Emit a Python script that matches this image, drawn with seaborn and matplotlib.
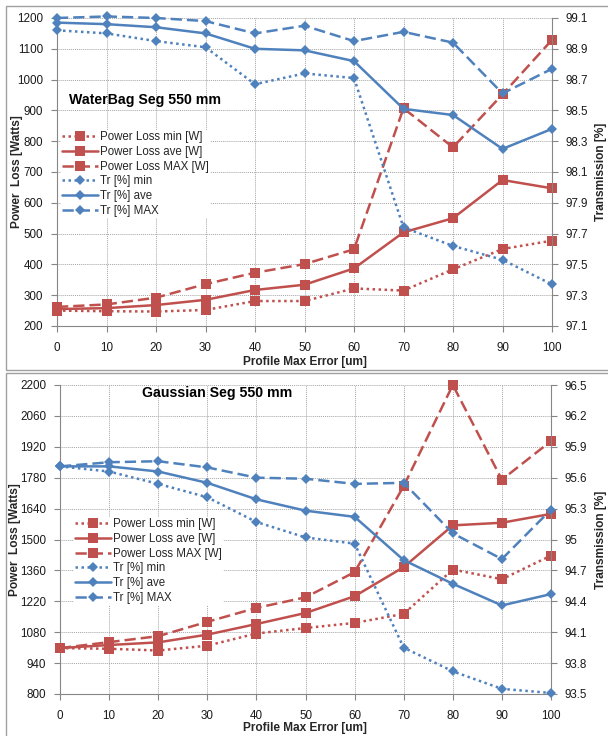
import numpy as np
import pandas as pd
import matplotlib
matplotlib.use("Agg")
import matplotlib.pyplot as plt
from matplotlib.patches import Rectangle
from matplotlib.ticker import FixedLocator, FuncFormatter
import seaborn as sns

# ---- data -------------------------------------------------------------
profile_error = [0, 10, 20, 30, 40, 50, 60, 70, 80, 90, 100]

# WaterBag segment, 550 mm
wb_loss_min = [250, 248, 247, 252, 281, 281, 322, 315, 384, 450, 477]
wb_loss_ave = [255, 258, 268, 285, 317, 334, 387, 504, 550, 674, 647]
wb_loss_max = [262, 270, 292, 336, 373, 401, 449, 907, 780, 952, 1129]
wb_tr_min = [99.02, 99.00, 98.95, 98.91, 98.67, 98.74, 98.71, 97.74, 97.62, 97.53, 97.37]
wb_tr_ave = [99.07, 99.06, 99.04, 99.00, 98.90, 98.89, 98.82, 98.51, 98.47, 98.25, 98.38]
wb_tr_max = [99.10, 99.11, 99.10, 99.08, 99.00, 99.05, 98.95, 99.01, 98.94, 98.61, 98.77]

# Gaussian segment, 550 mm
ga_loss_min = [1008, 1005, 997, 1019, 1074, 1099, 1122, 1163, 1364, 1320, 1427]
ga_loss_ave = [1008, 1022, 1034, 1069, 1117, 1167, 1243, 1375, 1564, 1576, 1616]
ga_loss_max = [1008, 1035, 1062, 1127, 1190, 1238, 1352, 1742, 2200, 1771, 1946]
ga_tr_min = [95.71, 95.66, 95.54, 95.41, 95.17, 95.02, 94.96, 93.95, 93.72, 93.55, 93.51]
ga_tr_ave = [95.71, 95.71, 95.66, 95.55, 95.39, 95.28, 95.22, 94.80, 94.57, 94.36, 94.47]
ga_tr_max = [95.71, 95.75, 95.76, 95.70, 95.60, 95.59, 95.54, 95.55, 95.06, 94.81, 95.29]

series_labels = ["Power Loss min [W]", "Power Loss ave [W]", "Power Loss MAX [W]",
                 "Tr [%] min", "Tr [%] ave", "Tr [%] MAX"]

# ---- styling ----------------------------------------------------------
sns.set_theme(style="white")
plt.rcParams["font.family"] = ["Liberation Sans", "DejaVu Sans"]

RED = "#C0504D"
BLUE = "#4F81BD"
AXIS_GRAY = "#868686"
GRID_GRAY = "#A6A6A6"
STYLES = {"min": (0, (1, 1.4)), "ave": "-", "max": (0, (4.5, 2))}

W, H = 608, 736
fig = plt.figure(figsize=(W / 100, H / 100), dpi=100)


def fx(px):
    return px / W


def fy(py):
    return 1 - py / H


def panel(rect_px, left_lim, right_lim, loss, tr, title, title_xy, legend_xy,
          ylabel_xy, xlabel_off):
    x0, y0, x1, y1 = rect_px
    ax = fig.add_axes([fx(x0), fy(y1), fx(x1 - x0), fy(y0) - fy(y1)])
    ax2 = ax.twinx()
    ax2.patch.set_visible(False)

    df = pd.DataFrame({"err": profile_error})
    handles = []
    for key, vals in zip(["min", "ave", "max"], loss):
        df["v"] = vals
        sns.lineplot(data=df, x="err", y="v", ax=ax, color=RED, linestyle=STYLES[key],
                     linewidth=1.8, marker="s", markersize=6.5, markeredgewidth=0,
                     clip_on=False, zorder=3)
        handles.append(ax.lines[-1])
    for key, vals in zip(["min", "ave", "max"], tr):
        df["v"] = vals
        sns.lineplot(data=df, x="err", y="v", ax=ax2, color=BLUE, linestyle=STYLES[key],
                     linewidth=1.8, marker="D", markersize=5, markeredgewidth=0,
                     clip_on=False, zorder=3)
        handles.append(ax2.lines[-1])

    ax.set_xlim(0, 100)
    ax.set_ylim(*left_lim)
    ax2.set_ylim(*right_lim)
    lt = np.linspace(left_lim[0], left_lim[1], 11)
    rt = np.round(np.linspace(right_lim[0], right_lim[1], 11), 2)
    ax.yaxis.set_major_locator(FixedLocator(lt))
    ax2.yaxis.set_major_locator(FixedLocator(rt))
    ax.xaxis.set_major_locator(FixedLocator(profile_error))
    ax.yaxis.set_major_formatter(FuncFormatter(lambda v, p: f"{v:.0f}"))
    ax2.yaxis.set_major_formatter(FuncFormatter(lambda v, p: f"{v:g}"))

    ax.grid(True, color=GRID_GRAY, linestyle=(0, (1, 1)), linewidth=0.7)
    ax.set_axisbelow(True)
    ax.set_xlabel("")
    ax.set_ylabel("")
    ax2.set_ylabel("")

    for a in (ax, ax2):
        for s in a.spines.values():
            s.set_color(AXIS_GRAY)
            s.set_linewidth(0.8)
        a.spines["top"].set_visible(False)
    ax.spines["right"].set_visible(False)
    ax2.spines["left"].set_visible(False)
    ax2.spines["bottom"].set_visible(False)

    ax.tick_params(axis="both", direction="out", length=4, width=0.8, color=AXIS_GRAY,
                   labelsize=8.4, labelcolor="#1a1a1a")
    ax.tick_params(axis="x", pad=7.5, bottom=True)
    ax.tick_params(axis="y", pad=6, left=True)
    ax2.tick_params(axis="y", direction="out", length=4, width=0.8, color=AXIS_GRAY,
                    labelsize=8.4, labelcolor="#1a1a1a", pad=6, right=True)

    fig.text(fx(title_xy[0]), fy(title_xy[1]), title, fontsize=10.2, fontweight="bold",
             ha="left", va="center", color="black")

    leg = ax2.legend(handles, series_labels, loc="upper left",
                     bbox_to_anchor=(fx(legend_xy[0]), fy(legend_xy[1])),
                     bbox_transform=fig.transFigure, frameon=True, fontsize=8.3,
                     labelspacing=0.24, handlelength=3.1, handletextpad=0.15,
                     borderpad=0.1, borderaxespad=0)
    leg.get_frame().set_facecolor("white")
    leg.get_frame().set_edgecolor("none")
    leg.get_frame().set_alpha(1)
    leg.set_zorder(10)

    fig.text(fx(ylabel_xy[0]), fy(ylabel_xy[1]), "Power  Loss [Watts]", rotation=90,
             fontsize=8.6, fontweight="bold", ha="center", va="center")
    fig.text(fx(601), fy(ylabel_xy[1]), "Transmission [%]", rotation=90, fontsize=8.6,
             fontweight="bold", ha="center", va="center")
    fig.text(fx(305), fy(y1 + xlabel_off), "Profile Max Error [um]", fontsize=8.6,
             fontweight="bold", ha="center", va="center")
    return ax, ax2


# chart frames
for top, bot in [(6, 370), (373, 745)]:
    fig.patches.append(Rectangle((fx(6), fy(bot)), fx(620) - fx(6), fy(top) - fy(bot),
                                 transform=fig.transFigure, fill=False,
                                 edgecolor="#A0A0A0", linewidth=1.0))

panel((57, 18, 552, 326), (200, 1200), (97.1, 99.1),
      [wb_loss_min, wb_loss_ave, wb_loss_max], [wb_tr_min, wb_tr_ave, wb_tr_max],
      "WaterBag Seg 550 mm", (69, 100), (61, 130), (17, 172), 35.5)

panel((60, 385, 551, 694), (800, 2200), (93.5, 96.5),
      [ga_loss_min, ga_loss_ave, ga_loss_max], [ga_tr_min, ga_tr_ave, ga_tr_max],
      "Gaussian Seg 550 mm", (142, 393), (74, 517), (15, 540), 34)

fig.savefig("out.png", dpi=100, facecolor="white")
